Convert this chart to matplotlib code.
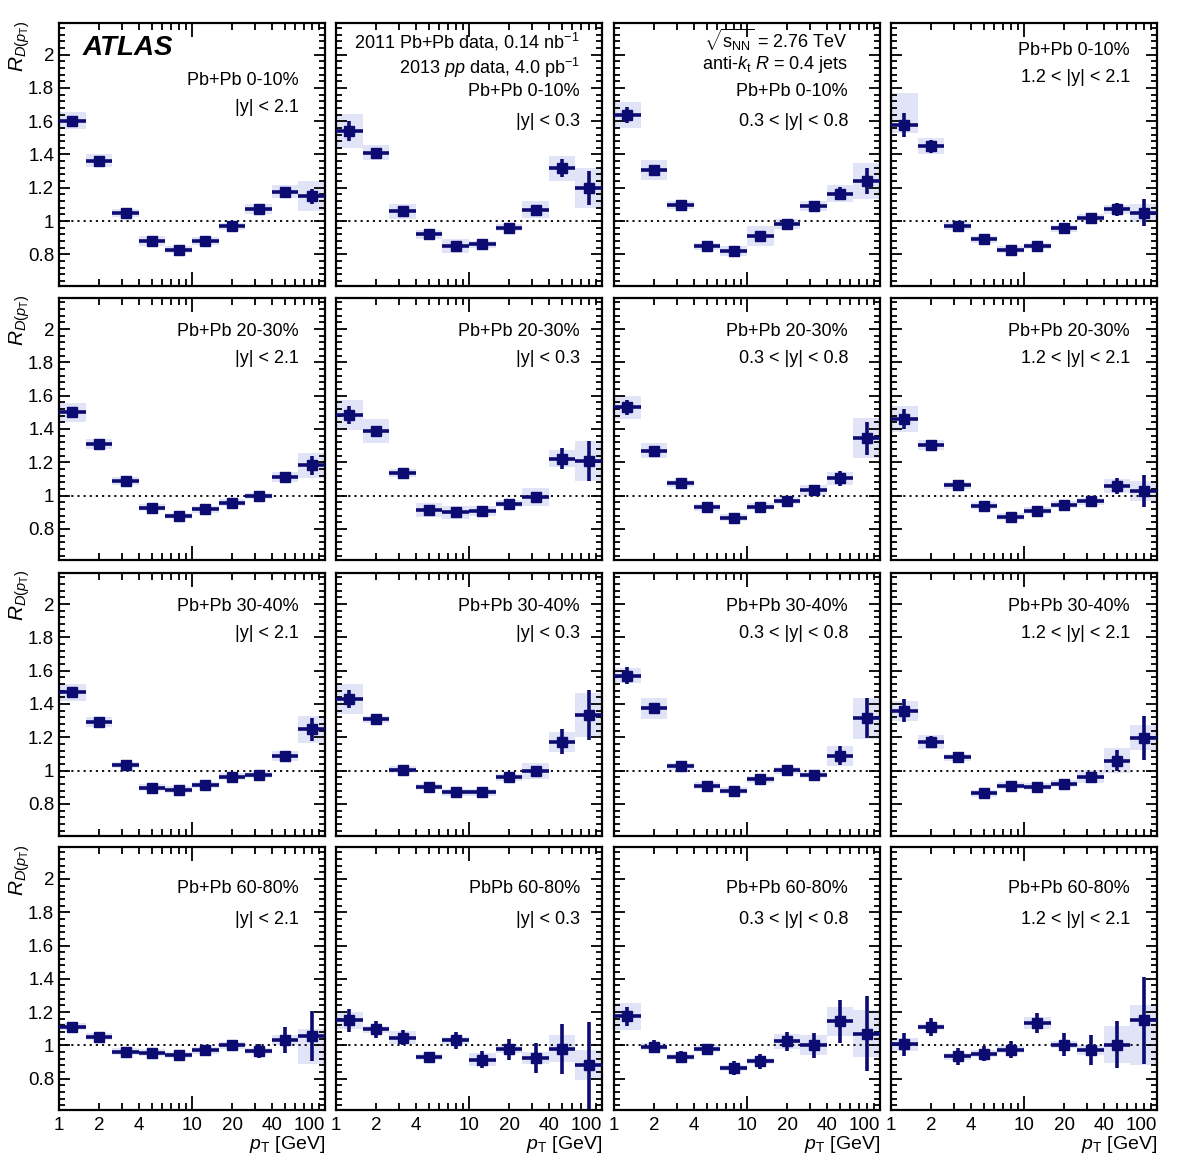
import numpy as np
import matplotlib
matplotlib.use("Agg")
import matplotlib.pyplot as plt
from matplotlib.ticker import FixedLocator, NullFormatter, FuncFormatter, MultipleLocator

plt.rcParams["font.family"] = ["Liberation Sans", "DejaVu Sans"]
plt.rcParams["mathtext.fontset"] = "custom"
plt.rcParams["mathtext.rm"] = "Liberation Sans"
plt.rcParams["mathtext.it"] = "Liberation Sans:italic"
plt.rcParams["mathtext.bf"] = "Liberation Sans:bold"

# pT bins [GeV]
pt_edges = [1.0, 1.585, 2.512, 3.981, 6.310, 10.0, 15.85, 25.12, 39.81, 63.10, 100.0]

centralities = ["Pb+Pb 0-10%", "Pb+Pb 20-30%", "Pb+Pb 30-40%", "Pb+Pb 60-80%"]
rapidities = ["|y| < 2.1", "|y| < 0.3", "0.3 < |y| < 0.8", "1.2 < |y| < 2.1"]

# R_D(pT) per panel, row = centrality, column = rapidity
ratio = [
    [1.604, 1.362, 1.050, 0.880, 0.828, 0.882, 0.968, 1.070, 1.176, 1.150],
    [1.542, 1.412, 1.060, 0.920, 0.850, 0.860, 0.960, 1.068, 1.318, 1.198],
    [1.638, 1.304, 1.098, 0.848, 0.818, 0.910, 0.984, 1.088, 1.164, 1.240],
    [1.578, 1.450, 0.972, 0.890, 0.828, 0.850, 0.956, 1.020, 1.070, 1.050],
    [1.500, 1.308, 1.086, 0.928, 0.878, 0.918, 0.958, 0.998, 1.112, 1.182],
    [1.486, 1.388, 1.134, 0.914, 0.900, 0.908, 0.952, 0.992, 1.222, 1.206],
    [1.530, 1.270, 1.074, 0.930, 0.868, 0.934, 0.970, 1.034, 1.104, 1.344],
    [1.460, 1.302, 1.062, 0.940, 0.874, 0.910, 0.946, 0.966, 1.058, 1.028],
    [1.470, 1.294, 1.034, 0.898, 0.886, 0.914, 0.964, 0.974, 1.086, 1.248],
    [1.428, 1.308, 1.006, 0.902, 0.870, 0.870, 0.960, 0.998, 1.174, 1.334],
    [1.570, 1.374, 1.026, 0.910, 0.880, 0.948, 1.002, 0.974, 1.090, 1.314],
    [1.360, 1.172, 1.080, 0.864, 0.910, 0.904, 0.922, 0.964, 1.060, 1.196],
    [1.112, 1.052, 0.962, 0.956, 0.942, 0.970, 1.000, 0.966, 1.032, 1.056],
    [1.150, 1.096, 1.046, 0.930, 1.030, 0.914, 0.976, 0.924, 0.980, 0.880],
    [1.174, 0.992, 0.930, 0.980, 0.864, 0.906, 1.024, 1.000, 1.144, 1.070],
    [1.006, 1.110, 0.934, 0.950, 0.974, 1.134, 1.004, 0.970, 1.004, 1.150],
]

stat = [
    [0.015, 0.01, 0.01, 0.01, 0.01, 0.01, 0.01, 0.015, 0.02, 0.045],
    [0.06, 0.02, 0.01, 0.01, 0.01, 0.01, 0.015, 0.015, 0.055, 0.10],
    [0.05, 0.015, 0.01, 0.01, 0.01, 0.01, 0.01, 0.015, 0.04, 0.08],
    [0.07, 0.04, 0.01, 0.01, 0.01, 0.01, 0.01, 0.015, 0.04, 0.08],
    [0.02, 0.01, 0.01, 0.01, 0.01, 0.01, 0.01, 0.01, 0.015, 0.058],
    [0.055, 0.02, 0.01, 0.01, 0.01, 0.01, 0.01, 0.02, 0.065, 0.12],
    [0.045, 0.01, 0.01, 0.01, 0.01, 0.01, 0.01, 0.01, 0.045, 0.10],
    [0.06, 0.02, 0.01, 0.01, 0.01, 0.01, 0.01, 0.01, 0.05, 0.095],
    [0.02, 0.01, 0.01, 0.01, 0.01, 0.01, 0.01, 0.01, 0.02, 0.07],
    [0.055, 0.02, 0.01, 0.01, 0.01, 0.01, 0.01, 0.025, 0.075, 0.15],
    [0.05, 0.01, 0.01, 0.01, 0.01, 0.01, 0.01, 0.01, 0.055, 0.12],
    [0.07, 0.035, 0.01, 0.01, 0.01, 0.01, 0.01, 0.02, 0.065, 0.13],
    [0.03, 0.02, 0.02, 0.02, 0.02, 0.02, 0.03, 0.04, 0.08, 0.15],
    [0.07, 0.05, 0.045, 0.03, 0.05, 0.05, 0.065, 0.09, 0.15, 0.26],
    [0.055, 0.04, 0.035, 0.03, 0.04, 0.045, 0.055, 0.075, 0.13, 0.225],
    [0.07, 0.055, 0.05, 0.045, 0.05, 0.06, 0.07, 0.09, 0.14, 0.26],
]

# systematic uncertainty, (down, up) where asymmetric
syst = [
    [0.05, 0.04, 0.025, 0.03, 0.02, 0.025, 0.02, 0.03, 0.04, 0.09],
    [0.10, 0.045, 0.045, 0.025, 0.04, 0.02, 0.02, 0.05, 0.075, 0.12],
    [0.08, 0.06, 0.025, 0.02, 0.03, 0.06, 0.03, 0.03, 0.05, 0.11],
    [(0.05, 0.19), 0.05, 0.025, 0.02, 0.02, 0.02, 0.02, 0.02, 0.025, 0.055],
    [0.055, 0.03, 0.025, 0.02, 0.02, 0.02, 0.02, 0.02, 0.03, 0.075],
    [0.09, 0.075, 0.025, 0.04, 0.04, 0.03, 0.02, 0.055, 0.05, 0.12],
    [0.07, 0.045, 0.02, 0.02, 0.02, 0.02, 0.02, 0.03, 0.04, 0.12],
    [0.08, 0.03, 0.02, 0.02, 0.02, 0.02, 0.02, 0.02, 0.04, 0.06],
    [0.05, 0.03, 0.02, 0.02, 0.02, 0.02, 0.02, 0.02, 0.03, 0.08],
    [0.09, 0.02, 0.02, 0.02, 0.02, 0.02, 0.02, 0.05, 0.06, 0.135],
    [0.045, 0.064, 0.02, 0.02, 0.02, 0.02, 0.02, 0.02, 0.06, 0.125],
    [0.06, 0.04, 0.02, 0.02, 0.02, 0.02, 0.02, 0.04, 0.075, 0.075],
    [0.02, 0.02, 0.02, 0.02, 0.02, 0.02, 0.02, 0.02, 0.03, (0.165, 0.04)],
    [0.05, 0.02, 0.04, 0.02, 0.02, 0.04, 0.02, 0.035, 0.08, 0.09],
    [0.08, 0.02, 0.02, 0.02, 0.02, 0.02, 0.045, 0.06, 0.085, 0.14],
    [0.04, 0.02, 0.02, 0.02, 0.02, 0.035, 0.02, 0.03, 0.11, (0.27, 0.09)],
]

navy = "#0b0b72"
band = "#e1e3f7"

fig = plt.figure(figsize=(11.82, 11.69), dpi=100)
W, H = 1182.0, 1169.0
col_left = [59, 336, 614, 891]
row_top = [23, 297.5, 572.5, 847.3]
pw, ph = 266, 263

edges = np.array(pt_edges)
lo_e = edges[:-1]
hi_e = edges[1:]
centers = np.sqrt(lo_e * hi_e)

text_x = [0.902, 0.917, 0.880, 0.898]


def minor_label(v, pos):
    for t in (2, 4, 20, 40):
        if abs(v - t) < 1e-6 * t:
            return str(t)
    return ""


for r in range(4):
    for c in range(4):
        k = r * 4 + c
        ax = fig.add_axes([col_left[c] / W, 1 - (row_top[r] + ph) / H, pw / W, ph / H])
        ax.set_xscale("log")
        ax.set_xlim(1, 100)
        ax.set_ylim(0.61, 2.19)

        val = np.array(ratio[k])
        s_dn = np.array([s[0] if isinstance(s, tuple) else s for s in syst[k]])
        s_up = np.array([s[1] if isinstance(s, tuple) else s for s in syst[k]])
        ax.bar(lo_e, s_dn + s_up, bottom=val - s_dn, width=hi_e - lo_e, align="edge",
               color=band, linewidth=0, zorder=1)
        ax.axhline(1.0, color="black", linestyle=(0, (1.2, 2.2)), linewidth=1.3, zorder=2)
        ax.errorbar(centers, val, yerr=stat[k], xerr=[centers - lo_e, hi_e - centers],
                    fmt="s", color=navy, markersize=7.5, elinewidth=2.6, capsize=0, zorder=3)

        # axes styling
        for sp in ax.spines.values():
            sp.set_linewidth(1.6)
        ax.xaxis.set_major_locator(FixedLocator([1, 10, 100]))
        minors = [m * d for d in (1, 10) for m in range(2, 10)]
        ax.xaxis.set_minor_locator(FixedLocator(minors))
        ax.yaxis.set_major_locator(MultipleLocator(0.2))
        ax.yaxis.set_minor_locator(MultipleLocator(0.04))
        ax.tick_params(which="both", direction="in", top=True, right=True, width=1.3,
                       labelsize=13.5)
        ax.tick_params(axis="x", which="major", length=10)
        ax.tick_params(axis="x", which="minor", length=5)
        ax.tick_params(axis="y", which="major", length=8)
        ax.tick_params(axis="y", which="minor", length=4)
        ax.yaxis.set_major_formatter(FuncFormatter(lambda v, p: "%g" % round(v, 2)))

        if r == 3:
            ax.xaxis.set_major_formatter(FuncFormatter(lambda v, p: "%g" % v))
            ax.xaxis.set_minor_formatter(FuncFormatter(minor_label))
            ax.tick_params(axis="x", which="both", pad=5)
            ax.xaxis.get_major_ticks()[2].label1.set_horizontalalignment("right")
            ax.set_xlabel(r"$p_{\mathrm{T}}$ [GeV]", fontsize=14, loc="right", labelpad=0)
        else:
            ax.xaxis.set_major_formatter(NullFormatter())
            ax.xaxis.set_minor_formatter(NullFormatter())
        if c == 0:
            ax.set_ylabel(r"$R_{D(p_{\mathrm{T}})}$", fontsize=15, loc="top")
            ax.yaxis.set_label_coords(-0.10, 1.01)
        else:
            ax.yaxis.set_major_formatter(NullFormatter())

        # panel text
        tx = text_x[c]
        cent = centralities[r]
        if r == 3 and c == 1:
            cent = "PbPb 60-80%"
        if r == 0:
            if c == 0:
                ax.text(0.09, 0.905, "ATLAS", transform=ax.transAxes, fontsize=20,
                        fontweight="bold", fontstyle="italic", ha="left", va="center")
                ys = (0.783, 0.68)
            elif c == 1:
                ax.text(tx, 0.928, r"2011 Pb+Pb data, 0.14 nb$^{-1}$", transform=ax.transAxes,
                        fontsize=13, ha="right", va="center")
                ax.text(tx, 0.829, r"2013 $pp$ data, 4.0 pb$^{-1}$", transform=ax.transAxes,
                        fontsize=13, ha="right", va="center")
                ys = (0.738, 0.627)
            elif c == 2:
                ax.text(tx, 0.935, r"$\sqrt{\mathrm{s}_{\mathrm{NN}}}$ = 2.76 TeV",
                        transform=ax.transAxes, fontsize=13, ha="right", va="center")
                ax.text(tx, 0.844, r"anti-$k_{\mathrm{t}}$ $R$ = 0.4 jets", transform=ax.transAxes,
                        fontsize=13, ha="right", va="center")
                ys = (0.738, 0.627)
            else:
                ys = (0.897, 0.791)
        elif r == 3:
            ys = (0.845, 0.724)
        else:
            ys = (0.872, 0.769)
        ax.text(tx, ys[0], cent, transform=ax.transAxes, fontsize=13, ha="right", va="center")
        ax.text(tx, ys[1], rapidities[c], transform=ax.transAxes, fontsize=13,
                ha="right", va="center")

fig.savefig("out.png", dpi=100)
